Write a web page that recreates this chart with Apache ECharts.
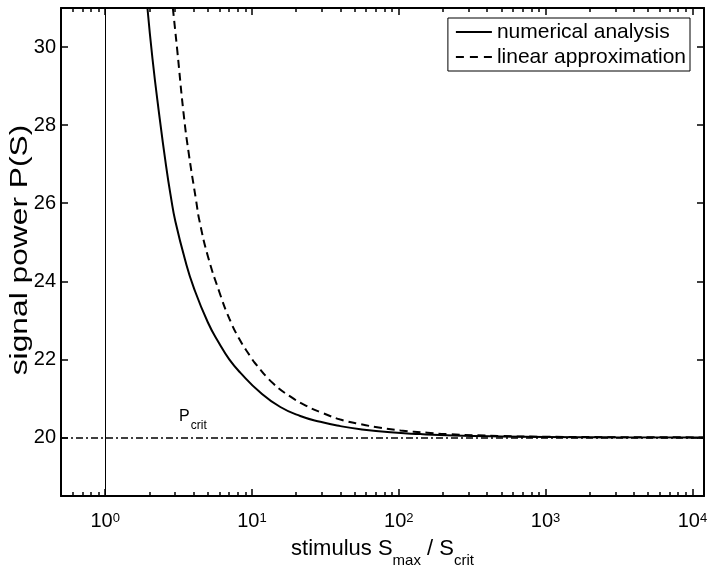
<!DOCTYPE html>
<html><head><meta charset="utf-8">
<script src="https://cdn.jsdelivr.net/npm/echarts@6/dist/echarts.min.js"></script>
<style>html,body{margin:0;padding:0;background:#fff}#c{width:714px;height:567px}</style>
</head><body><div id="c"></div>
<script>
// ---- data ----
const numericalX = [1.94, 2.1, 2.31, 2.6, 2.82, 3.0, 3.5, 4.0, 5.0, 6.0, 7.0, 8.32, 11.4, 15.6, 21.3, 29.2, 40, 54.7, 87.6, 140, 236, 500, 1000, 3000, 12000];
const numericalY = [31.0, 29.7, 28.4, 26.95, 26.1, 25.55, 24.55, 23.85, 22.95, 22.4, 22.0, 21.66, 21.15, 20.78, 20.55, 20.40, 20.29, 20.21, 20.13, 20.085, 20.05, 20.024, 20.012, 20.004, 20.001];
const linearX = [2.89, 3.1, 3.42, 3.7, 4.17, 4.37, 5.0, 6.0, 7.0, 8.2, 9.73, 10.5, 13.97, 18.2, 23.7, 30.6, 40, 54.7, 74.9, 102.6, 156.7, 214, 500, 1000, 3000, 12000];
const linearY = [31.0, 29.9, 28.3, 27.3, 26.05, 25.58, 24.65, 23.72, 23.05, 22.52, 22.08, 21.9, 21.38, 21.05, 20.80, 20.62, 20.46, 20.34, 20.25, 20.18, 20.12, 20.085, 20.036, 20.018, 20.006, 20.0015];
const xMajorTicks = [1, 10, 100, 1000, 10000];
const xMinorTicks = [0.6, 0.7, 0.8, 0.9, 2, 3, 4, 5, 6, 7, 8, 9, 20, 30, 40, 50, 60, 70, 80, 90, 200, 300, 400, 500, 600, 700, 800, 900, 2000, 3000, 4000, 5000, 6000, 7000, 8000, 9000];
const yTicks = [20, 22, 24, 26, 28, 30];
const pCrit = 20;
const sCrit = 1;
const seriesNames = ['numerical analysis', 'linear approximation'];
const yTitle = 'signal power P(S)';

const FONT = 'Liberation Sans, Arial, Helvetica, sans-serif';
const zip = (xs, ys) => xs.map((x, i) => [x, ys[i]]);
const chart = echarts.init(document.getElementById('c'), null, {renderer: 'canvas'});

const xBase = (pos, extra) => Object.assign({
  type: 'log', logBase: 10, min: 0.5, max: 12000, position: pos,
  gridIndex: 0, splitLine: {show: false}, minorTick: {show: false}, minorSplitLine: {show: false}
}, extra);
const yBase = (pos, extra) => Object.assign({
  type: 'value', min: 18.5, max: 31, position: pos,
  splitLine: {show: false}, minorTick: {show: false}
}, extra);
const frameLine = {show: true, onZero: false, lineStyle: {color: '#000', width: 2}};

chart.setOption({
  animation: false,
  backgroundColor: '#fff',
  color: ['#000', '#000'],
  textStyle: {fontFamily: FONT},
  grid: {left: 61, right: 10, top: 8, bottom: 71, containLabel: false, outerBoundsMode: 'none'},
  graphic: [{
    type: 'text', x: 21, y: 250, rotation: Math.PI / 2, scaleX: 1.38, silent: true,
    style: {text: yTitle, fontSize: 23, fontFamily: FONT, fill: '#000', align: 'center', verticalAlign: 'middle'}
  }],
  xAxis: [
    xBase('bottom', {
      axisLine: frameLine,
      axisTick: {show: true, inside: true, length: 7, customValues: xMajorTicks, lineStyle: {color: '#000', width: 1.5}},
      axisLabel: {
        show: true, margin: 13, customValues: xMajorTicks,
        formatter: v => '{b|10}{s|' + Math.round(Math.log10(v)) + '}',
        rich: {
          b: {fontSize: 20, lineHeight: 22, fontFamily: FONT, color: '#000', verticalAlign: 'bottom', padding: [6, 0, 0, 0]},
          s: {fontSize: 13, lineHeight: 14, fontFamily: FONT, color: '#000', verticalAlign: 'top', padding: [3, 0, 0, 0]}
        }
      },
      name: '{a|stimulus S}{s|max}{a| / S}{s|crit}',
      nameLocation: 'middle', nameGap: 42, nameMoveOverlap: false,
      nameTextStyle: {
        rich: {
          a: {fontSize: 22, lineHeight: 24, fontFamily: FONT, color: '#000', verticalAlign: 'top'},
          s: {fontSize: 15, lineHeight: 15, fontFamily: FONT, color: '#000', verticalAlign: 'top', padding: [15, 0, 0, 0]}
        }
      }
    }),
    xBase('bottom', {
      axisLine: {show: false},
      axisTick: {show: true, inside: true, length: 4, customValues: xMinorTicks, lineStyle: {color: '#000', width: 1.5}},
      axisLabel: {show: false}
    }),
    xBase('top', {
      axisLine: frameLine,
      axisTick: {show: true, inside: true, length: 7, customValues: xMajorTicks, lineStyle: {color: '#000', width: 1.5}},
      axisLabel: {show: false}
    }),
    xBase('top', {
      axisLine: {show: false},
      axisTick: {show: true, inside: true, length: 4, customValues: xMinorTicks, lineStyle: {color: '#000', width: 1.5}},
      axisLabel: {show: false}
    })
  ],
  yAxis: [
    yBase('left', {
      axisLine: frameLine,
      axisTick: {show: true, inside: true, length: 7, customValues: yTicks, lineStyle: {color: '#000', width: 1.5}},
      axisLabel: {show: true, margin: 5, customValues: yTicks, color: '#000', fontSize: 20, fontFamily: FONT}
    }),
    yBase('right', {
      axisLine: frameLine,
      axisTick: {show: true, inside: true, length: 7, customValues: yTicks, lineStyle: {color: '#000', width: 1.5}},
      axisLabel: {show: false}
    })
  ],
  legend: {
    data: [
      {name: seriesNames[0], icon: 'path://M0,0h36v2h-36z'},
      {name: seriesNames[1], icon: 'path://M0,0h8v2h-8zM14,0h8v2h-8zM28,0h8v2h-8z'}
    ],
    orient: 'vertical', right: 24, top: 18,
    padding: [3, 4, 3, 8], itemGap: 3, itemWidth: 36, itemHeight: 2,
    borderColor: '#000', borderWidth: 1, backgroundColor: '#fff',
    itemStyle: {color: '#000', borderWidth: 0},
    textStyle: {fontSize: 21, lineHeight: 22, color: '#000', fontFamily: FONT},
    selectedMode: false
  },
  series: [
    {
      name: seriesNames[0], type: 'line', xAxisIndex: 0, yAxisIndex: 0,
      data: zip(numericalX, numericalY), smooth: true, symbol: 'none', clip: true,
      itemStyle: {color: '#000'},
      lineStyle: {color: '#000', width: 2, type: 'solid'}, z: 3,
      markLine: {
        silent: true, symbol: ['none', 'none'], label: {show: false},
        data: [
          {xAxis: sCrit, lineStyle: {color: '#000', width: 1, type: 'solid'}},
          {yAxis: pCrit, lineStyle: {color: '#000', width: 1.5, type: [7, 3, 2, 3]}}
        ]
      },
      markPoint: {
        silent: true, symbol: 'circle', symbolSize: 0,
        data: [
          {coord: [3.455, 20.545], label: {show: true, position: 'inside', formatter: 'P', fontSize: 16, color: '#000', fontFamily: FONT}},
          {coord: [4.34, 20.31], label: {show: true, position: 'inside', formatter: 'crit', fontSize: 12, color: '#000', fontFamily: FONT}}
        ]
      }
    },
    {
      name: seriesNames[1], type: 'line', xAxisIndex: 0, yAxisIndex: 0,
      data: zip(linearX, linearY), smooth: true, symbol: 'none', clip: true,
      itemStyle: {color: '#000'},
      lineStyle: {color: '#000', width: 2, type: [8, 5]}, z: 3
    }
  ]
});
</script></body></html>
